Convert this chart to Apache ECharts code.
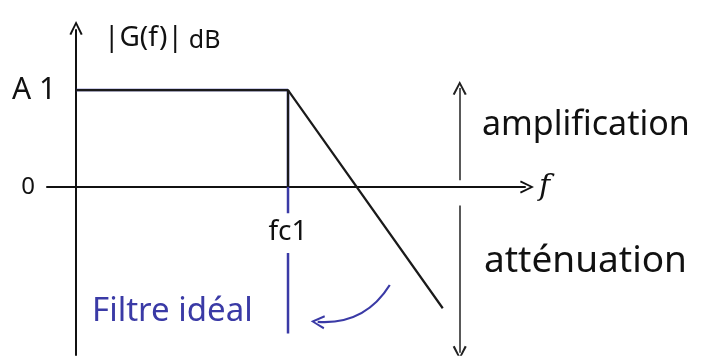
<!DOCTYPE html>
<html>
<head>
<meta charset="utf-8">
<script src="https://cdn.jsdelivr.net/npm/echarts@6/dist/echarts.min.js"></script>
<style>html,body{margin:0;padding:0;background:#fff}#c{width:704px;height:364px}</style>
</head>
<body>
<div id="c"></div>
<script>
// ---- data (x: frequency in units of fc1, y: gain in units of A1) ----
const yTickValues = [0, 1];
const yTickLabels = ['0', 'A 1'];
const xTickValues = [1];
const xTickLabels = ['fc1'];
const realResponse = [[0, 1], [1, 1], [1.73, -1.25]];
const cutoffDrop = [[1, 1], [1, 0]];
const idealPass = [[0, 1], [1, 1]];
const idealEdgeUpper = [[1, 1], [1, -0.27]];
const idealEdgeLower = [[1, -0.68], [1, -1.51]];
const amplifArrow = [[1.81, 0.07], [1.81, 1.02]];
const attenArrow = [[1.81, -0.19], [1.81, -1.71]];
const noteArrow = [[1.48, -1.01], [1.14, -1.39]];
const yAxisTitle = '|G(f)|';
const yAxisUnit = 'dB';
const xAxisTitle = 'f';
const upperNote = 'amplification';
const lowerNote = 'atténuation';
const idealNote = 'Filtre idéal';

const chevron = 'path://M0,10 L5,0 L10,10 L8.6,10.6 L5,3 L1.4,10.6 Z';
const BLUE = '#3a3aa6';
const FONT = 'Noto Sans';

const chart = echarts.init(document.getElementById('c'));
chart.setOption({
  animation: false,
  backgroundColor: '#fff',
  grid: { left: 47, right: 179, top: 30, bottom: 9, containLabel: false, outerBoundsMode: 'none' },
  xAxis: {
    type: 'value', min: -0.137, max: 2.118,
    splitLine: { show: false },
    axisTick: { show: false },
    axisLine: { onZero: true, lineStyle: { color: '#111', width: 2 }, symbol: ['none', chevron], symbolSize: [16, 14], symbolOffset: [0, 2] },
    axisLabel: { show: false },
    name: xAxisTitle, nameLocation: 'end', nameGap: 14,
    nameTextStyle: { color: '#111', fontFamily: 'DejaVu Serif', fontStyle: 'italic', fontSize: 30, padding: [22, 0, 0, 0] }
  },
  yAxis: {
    type: 'value', min: -1.732, max: 1.619,
    splitLine: { show: false },
    axisTick: { show: false },
    axisLine: { onZero: true, lineStyle: { color: '#111', width: 2 }, symbol: ['none', chevron], symbolSize: [16, 14], symbolOffset: [0, 2] },
    axisLabel: { show: false },
    name: '{g|' + yAxisTitle + '}{u|' + yAxisUnit + '}', nameLocation: 'end', nameGap: -8,
    nameTextStyle: {
      align: 'left', verticalAlign: 'middle', padding: [0, 0, 0, 28],
      rich: { g: { fontSize: 28, fontFamily: FONT, color: '#111' }, u: { fontSize: 25, fontFamily: FONT, color: '#111', padding: [6, 0, 0, 6] } }
    }
  },
  series: [
    { type: 'line', data: idealPass, symbol: 'none', lineStyle: { color: BLUE, width: 2.5 }, z: 2 },
    { type: 'line', data: idealEdgeUpper, symbol: 'none', lineStyle: { color: BLUE, width: 2.5 }, z: 2 },
    { type: 'line', data: idealEdgeLower, symbol: 'none', lineStyle: { color: BLUE, width: 2.5 }, z: 2 },
    { type: 'line', data: realResponse, symbol: 'none', lineStyle: { color: '#1a1a1a', width: 2.2 }, z: 3 },
    { type: 'line', data: cutoffDrop, symbol: 'none', lineStyle: { color: '#1a1a1a', width: 2.2 }, z: 3 },
    { type: 'lines', coordinateSystem: 'cartesian2d', symbol: ['none', chevron], symbolSize: [16, 14],
      lineStyle: { color: '#222', width: 1.5, curveness: 0, opacity: 1 },
      data: [{ coords: amplifArrow }, { coords: attenArrow }] },
    { type: 'lines', coordinateSystem: 'cartesian2d', symbol: ['none', chevron], symbolSize: 14,
      lineStyle: { color: BLUE, width: 2.2, curveness: 0.3, opacity: 1 },
      data: [{ coords: noteArrow }] },
    // tick labels on the y axis (at x = 0)
    { type: 'scatter', symbolSize: 0, silent: true, itemStyle: { opacity: 1 },
      data: yTickValues.map((v, i) => ({ value: [0, v], label: { formatter: yTickLabels[i], fontSize: v === 0 ? 24 : 30, distance: v === 0 ? 41 : 20 } })),
      label: { show: true, position: 'left', color: '#111', fontFamily: FONT } },
    // tick labels on the x axis (at y = 0)
    { type: 'scatter', symbolSize: 0, silent: true, itemStyle: { opacity: 1 },
      data: xTickValues.map((v, i) => ({ value: [v, 0], label: { formatter: xTickLabels[i] } })),
      label: { show: true, position: 'bottom', distance: 31, color: '#111', fontFamily: FONT, fontSize: 28 } }
  ],
  graphic: [
    { type: 'text', left: 482, top: 108, style: { text: upperNote, fontFamily: FONT, fontSize: 34, fill: '#111' } },
    { type: 'text', left: 484, top: 243, style: { text: lowerNote, fontFamily: FONT, fontSize: 37, fill: '#111' } },
    { type: 'text', left: 92, top: 295, style: { text: idealNote, fontFamily: FONT, fontSize: 33, fill: BLUE } }
  ]
});
</script>
</body>
</html>
